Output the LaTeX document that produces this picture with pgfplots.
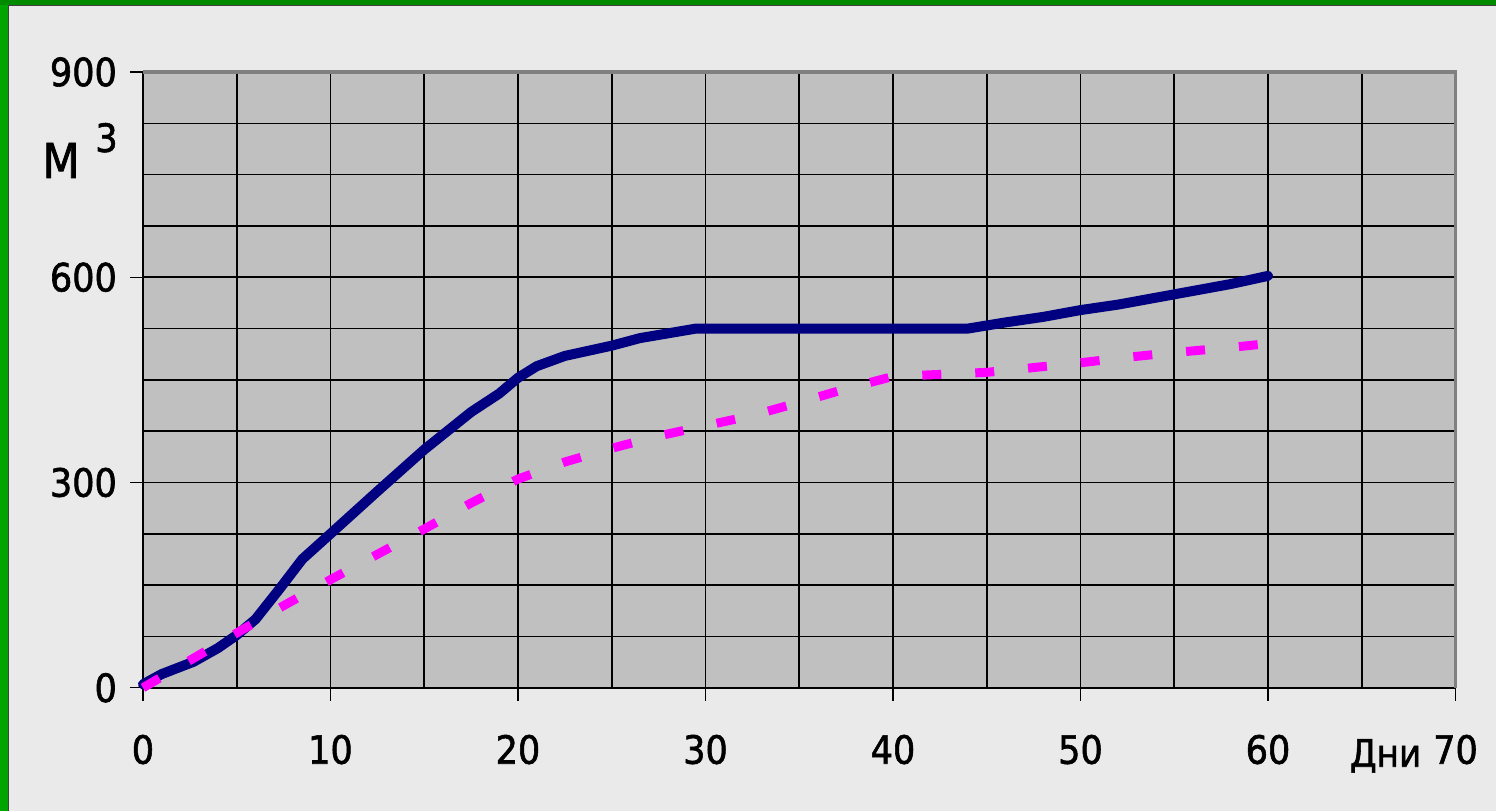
\documentclass[border=0pt]{standalone}
\usepackage{fontspec}
\setmainfont{DejaVu Sans}[FakeStretch=0.9, FakeBold=1.5]
\usepackage{pgfplots}
\pgfplotsset{compat=1.18}
\definecolor{bg}{HTML}{EAEAEA}
\definecolor{plotgray}{HTML}{C0C0C0}
\definecolor{gL}{HTML}{00A400}
\definecolor{gT}{HTML}{008A00}
\definecolor{navyline}{HTML}{000080}
\definecolor{pinkline}{HTML}{FF00FF}
\definecolor{frame}{HTML}{808080}
\begin{document}
\begin{tikzpicture}
\fill[bg] (-71.5pt,-61.5pt) rectangle (676.5pt,344pt);
\fill[gL] (-71.5pt,-61.5pt) rectangle (-67.5pt,344pt);
\fill[gT] (-71.5pt,341.5pt) rectangle (676.5pt,344pt);
\draw[line width=0.5pt, black!75] (-67.25pt,-61.5pt) -- (-67.25pt,341.25pt) -- (676.5pt,341.25pt);
\begin{axis}[
  at={(0,0)}, anchor=south west,
  scale only axis, width=656.5pt, height=308pt,
  xmin=0, xmax=70, ymin=0, ymax=900,
  xtick={0,10,...,70}, ytick={0,300,600,900},
  minor x tick num=1, minor y tick num=3,
  grid=both,
  major grid style={black, line width=0.8pt},
  minor grid style={black, line width=0.8pt},
  axis x line*=bottom, axis y line*=left,
  axis line style={black, line width=1pt},
  tick align=outside, major tick length=6.5pt, minor tick length=0pt,
  tick style={black, line width=0.6pt},
  axis background/.style={fill=plotgray},
  ticklabel style={font=\fontsize{19.5}{20}\selectfont},
  xticklabel style={anchor=base, yshift=-31.5pt},
  yticklabel style={anchor=east, xshift=-3pt},
  /pgf/number format/assume math mode=true,
  clip=false,
]
\draw[frame, line width=1.6pt] (rel axis cs:0,1) -- (rel axis cs:1,1) -- (rel axis cs:1,0);
\addplot[navyline, line width=5pt, line join=round, line cap=round] coordinates {
(0,5) (1,20) (2.7,38) (4,58) (5,77) (6,100) (7.3,145) (8.5,188) (10,225) (12.5,287) (15,348) (17.5,403) (19,430) (20,453) (21,470) (22.5,485) (25,500) (26.5,511) (28,518) (29.5,525) (44,525) (46,534) (48,542) (50,552) (52,560) (54,570) (56,580) (58,590) (60,602)
};
\addplot[pinkline, line width=4.5pt, dash pattern=on 9.5pt off 17pt] coordinates {
(0,0) (2.5,40) (5,80) (7.5,120) (10,158) (12.5,195) (15,232) (17.5,270) (20,305) (22.5,330) (25,350) (27.5,368) (30,383) (32.5,398) (35,417) (37.5,437) (40,455) (42.5,458) (45,461) (47.5,468) (50,475) (52.5,483) (55,490) (57.5,496) (60,503)
};
\end{axis}
\node[anchor=base west, inner sep=0pt, font=\fontsize{24}{26}\selectfont] at (-50.5pt,255pt) {М};
\node[anchor=base west, inner sep=0pt, font=\fontsize{19.5}{20}\selectfont] at (-24pt,268pt) {3};
\node[anchor=base west, inner sep=0pt, font=\fontsize{19}{20}\selectfont] at (603.5pt,-39.5pt) {Дни};
\end{tikzpicture}
\end{document}
